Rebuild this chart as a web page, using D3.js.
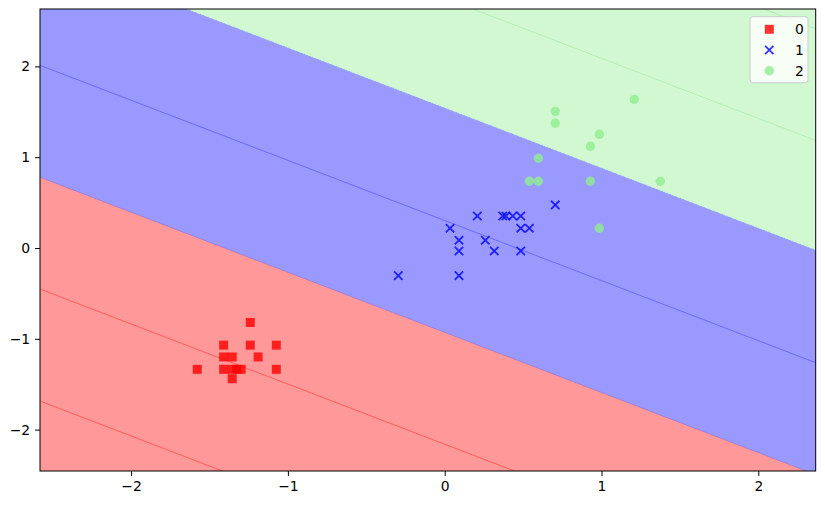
<!DOCTYPE html>
<html>
<head>
<meta charset="utf-8">
<script src="https://cdn.jsdelivr.net/npm/d3@7"></script>
<style>
  body { margin: 0; background: #fff; }
  svg text { font-family: "DejaVu Sans", sans-serif; font-size: 13.9px; fill: #000; }
</style>
</head>
<body>
<svg id="chart" width="825" height="505"></svg>
<script>
// class samples (standardized features)
const class0 = [[-1.24, -0.82], [-1.41, -1.07], [-1.24, -1.07], [-1.074, -1.07],
  [-1.41, -1.2], [-1.355, -1.2], [-1.19, -1.2], [-1.578, -1.336], [-1.41, -1.336],
  [-1.355, -1.336], [-1.325, -1.336], [-1.298, -1.336], [-1.074, -1.336], [-1.355, -1.44]]
const class1 = [[-0.296, -0.305], [0.091, -0.305], [0.034, 0.217], [0.091, 0.085],
  [0.091, -0.033], [0.208, 0.352], [0.259, 0.085], [0.316, -0.033], [0.37, 0.352],
  [0.39, 0.352], [0.434, 0.352], [0.485, 0.352], [0.485, 0.217], [0.54, 0.217],
  [0.485, -0.033], [0.705, 0.474]]
const class2 = [[1.209, 1.637], [0.705, 1.505], [0.705, 1.373], [0.986, 1.252],
  [0.929, 1.12], [0.597, 0.988], [0.54, 0.735], [0.597, 0.735], [0.929, 0.735],
  [1.375, 0.735], [0.986, 0.217]]
const classLabels = ['0', '1', '2']

// decision function: y = slope * x + offset, boundaries between regions
const boundarySlope = -0.662
const boundaryOffsets = [-0.93, 1.543]
// contour seams inside the filled regions (offsets at x = 0)
const seamOffsets = [-3.394, -2.161, 0.303, 2.751, 3.98]

const xDomain = [-2.581, 2.366]
const yDomain = [-2.456, 2.632]
const xTicks = [-2, -1, 0, 1, 2]
const yTicks = [-2, -1, 0, 1, 2]

const margin = {top: 9, left: 40, right: 9.3, bottom: 34}
const W = 825, H = 505
const svg = d3.select('#chart')

const x = d3.scaleLinear().domain(xDomain).range([margin.left, W - margin.right])
const y = d3.scaleLinear().domain(yDomain).range([H - margin.bottom, margin.top])

svg.append('clipPath').attr('id', 'plotclip')
  .append('rect')
  .attr('x', x(xDomain[0])).attr('y', y(yDomain[1]))
  .attr('width', x(xDomain[1]) - x(xDomain[0]))
  .attr('height', y(yDomain[0]) - y(yDomain[1]))

const plot = svg.append('g').attr('clip-path', 'url(#plotclip)')

const regionColors = ['#ff9999', '#9999ff', '#d3f8d3']
const seamColors = ['#ff5555', '#6666ff', '#b0eeb0']
const far = 20
const cuts = [-100, ...boundaryOffsets, 100]

// region polygons between consecutive boundary lines
regionColors.forEach((c, i) => {
  const lo = cuts[i], hi = cuts[i + 1]
  const pts = [
    [-far, boundarySlope * -far + lo], [far, boundarySlope * far + lo],
    [far, boundarySlope * far + hi], [-far, boundarySlope * -far + hi]
  ]
  plot.append('path')
    .attr('d', d3.line().x(d => x(d[0])).y(d => y(d[1]))(pts) + 'Z')
    .attr('fill', c)
    .attr('shape-rendering', 'crispEdges')
})

const regionOf = off => off < boundaryOffsets[0] ? 0 : off < boundaryOffsets[1] ? 1 : 2
seamOffsets.forEach(off => {
  plot.append('line')
    .attr('x1', x(-far)).attr('y1', y(boundarySlope * -far + off))
    .attr('x2', x(far)).attr('y2', y(boundarySlope * far + off))
    .attr('stroke', seamColors[regionOf(off)])
    .attr('stroke-width', 0.9)
})
boundaryOffsets.forEach((off, i) => {
  plot.append('line')
    .attr('x1', x(-far)).attr('y1', y(boundarySlope * -far + off))
    .attr('x2', x(far)).attr('y2', y(boundarySlope * far + off))
    .attr('stroke', i === 0 ? '#9a6ad8' : '#a8c8e8')
    .attr('stroke-width', 0.7)
    .attr('opacity', 0.8)
})

// markers
const drawMarker = (g, k, cx, cy) => {
  if (k === 0) {
    g.append('rect').attr('x', cx - 4.5).attr('y', cy - 4.5)
      .attr('width', 9).attr('height', 9)
      .attr('fill', 'red').attr('fill-opacity', 0.8)
  } else if (k === 1) {
    g.append('path')
      .attr('d', `M${cx - 4.2},${cy - 4.2}L${cx + 4.2},${cy + 4.2}M${cx - 4.2},${cy + 4.2}L${cx + 4.2},${cy - 4.2}`)
      .attr('stroke', 'blue').attr('stroke-opacity', 0.8)
      .attr('stroke-width', 1.8).attr('fill', 'none')
  } else {
    g.append('circle').attr('cx', cx).attr('cy', cy).attr('r', 4.7)
      .attr('fill', 'lightgreen').attr('fill-opacity', 0.8)
  }
}

const pointsG = svg.append('g').attr('clip-path', 'url(#plotclip)');
[class0, class1, class2].forEach((pts, k) => {
  pts.forEach(p => drawMarker(pointsG, k, x(p[0]), y(p[1])))
})

// axes
const xAxis = d3.axisBottom(x).tickValues(xTicks).tickSize(4.9).tickPadding(4.9)
  .tickFormat(d => String(d).replace('-', '\u2212'))
const yAxis = d3.axisLeft(y).tickValues(yTicks).tickSize(4.9).tickPadding(4.9)
  .tickFormat(d => String(d).replace('-', '\u2212'))

const gx = svg.append('g').attr('transform', `translate(0,${y(yDomain[0])})`).call(xAxis)
const gy = svg.append('g').attr('transform', `translate(${x(xDomain[0])},0)`).call(yAxis)
;[gx, gy].forEach(g => {
  g.select('.domain').remove()
  g.selectAll('text').attr('font-family', '"DejaVu Sans", sans-serif').attr('font-size', 13.9)
  g.selectAll('line').attr('stroke', '#000').attr('stroke-width', 1)
})

svg.append('rect')
  .attr('x', x(xDomain[0])).attr('y', y(yDomain[1]))
  .attr('width', x(xDomain[1]) - x(xDomain[0]))
  .attr('height', y(yDomain[0]) - y(yDomain[1]))
  .attr('fill', 'none').attr('stroke', '#000').attr('stroke-width', 1)

// legend
const legend = svg.append('g').attr('transform', `translate(750,16.7)`)
legend.append('rect')
  .attr('width', 58).attr('height', 66).attr('rx', 2.8)
  .attr('fill', '#fff').attr('fill-opacity', 0.8)
  .attr('stroke', '#cccccc').attr('stroke-width', 1)
classLabels.forEach((lab, k) => {
  const cy = 12.6 + k * 20.7
  drawMarker(legend, k, 19.3, cy)
  legend.append('text').attr('x', 45).attr('y', cy).attr('dy', '0.35em').text(lab)
})
</script>
</body>
</html>
